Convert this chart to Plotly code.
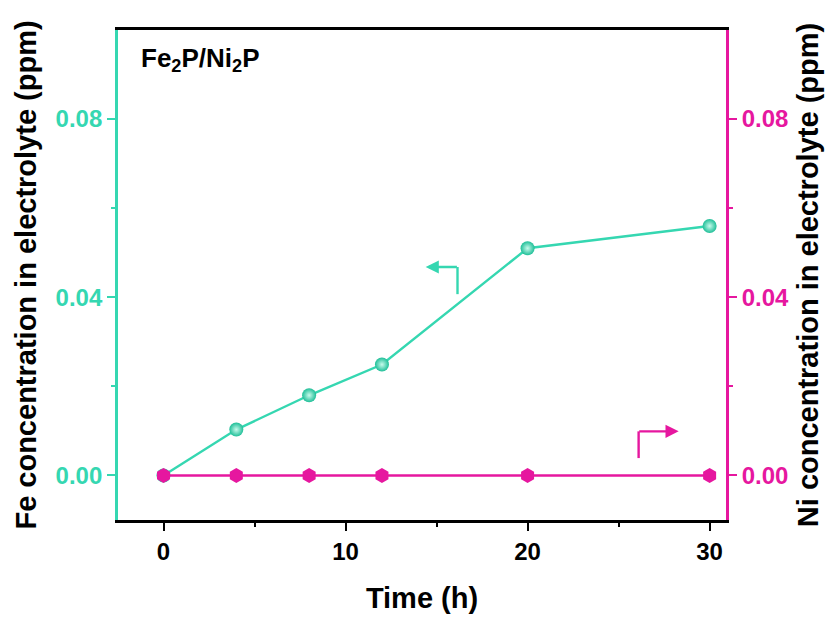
import plotly.graph_objects as go

time_h = [0, 4, 8, 12, 20, 30]
fe_ppm = [0.0, 0.0103, 0.018, 0.0249, 0.051, 0.056]
ni_ppm = [0.0, 0.0, 0.0, 0.0, 0.0, 0.0]
x_ticks = [0, 10, 20, 30]
y_ticks = [0.0, 0.04, 0.08]
y_tick_labels = ["0.00", "0.04", "0.08"]

TEAL = "#35d7b1"
MAG = "#e6179f"
FONT = "Liberation Sans, Arial, sans-serif"

fig = go.Figure()
fig.add_trace(go.Scatter(
    x=time_h, y=fe_ppm, mode="lines+markers", name="Fe",
    line=dict(color=TEAL, width=2.4),
    marker=dict(symbol="circle", size=14, color="#1fbf98",
                gradient=dict(type="radial", color="#c8fbec"),
                line=dict(width=0)),
    yaxis="y", cliponaxis=False))
fig.add_trace(go.Scatter(
    x=time_h, y=ni_ppm, mode="lines+markers", name="Ni",
    line=dict(color=MAG, width=2.4),
    marker=dict(symbol="hexagon", size=15, color=MAG, line=dict(width=0)),
    yaxis="y2", cliponaxis=False))

fig.update_layout(
    width=828, height=609,
    margin=dict(l=110, r=110, t=22, b=97, autoexpand=False),
    paper_bgcolor="white", plot_bgcolor="white",
    showlegend=False,
    font=dict(family=FONT),
    xaxis=dict(
        range=[-2.5, 30.9], tickvals=x_ticks, ticktext=[f"<b>{t}</b>" for t in x_ticks],
        showline=True, linecolor="black", linewidth=2.8, mirror=True,
        ticks="outside", ticklen=8, tickwidth=2.2, tickcolor="black",
        minor=dict(tickvals=[5, 15, 25], ticks="outside", ticklen=4, tickwidth=2.2, tickcolor="black"),
        showgrid=False, zeroline=False, automargin=False,
        tickfont=dict(family=FONT, size=24, color="black"),
        title=dict(text="<b>Time (h)</b>", font=dict(family=FONT, size=29, color="black"), standoff=24),
    ),
    yaxis=dict(
        range=[-0.01, 0.1], tickvals=y_ticks, ticktext=[f"<b>{t}</b>" for t in y_tick_labels],
        showline=True, linecolor=TEAL, linewidth=2.8,
        ticks="outside", ticklen=8, tickwidth=2.2, tickcolor=TEAL,
        minor=dict(tickvals=[0.02, 0.06], ticks="outside", ticklen=4, tickwidth=2.2, tickcolor=TEAL),
        showgrid=False, zeroline=False, automargin=False,
        tickfont=dict(family=FONT, size=24, color=TEAL),
        title=dict(text="<b>Fe concentration in electrolyte (ppm)</b>",
                   font=dict(family=FONT, size=29, color="black"), standoff=11),
    ),
    yaxis2=dict(
        range=[-0.01, 0.1], tickvals=y_ticks, ticktext=[f"<b>{t}</b>" for t in y_tick_labels],
        overlaying="y", side="right",
        showline=True, linecolor=MAG, linewidth=2.8,
        ticks="outside", ticklen=8, tickwidth=2.2, tickcolor=MAG,
        minor=dict(tickvals=[0.02, 0.06], ticks="outside", ticklen=4, tickwidth=2.2, tickcolor=MAG),
        showgrid=False, zeroline=False, automargin=False,
        tickfont=dict(family=FONT, size=24, color=MAG),
        title=dict(text="<b>Ni concentration in electrolyte (ppm)</b>",
                   font=dict(family=FONT, size=29, color="black"), standoff=10),
    ),
)

# Sample label
fig.add_annotation(x=0.035, y=0.978, xref="paper", yref="paper", xanchor="left", yanchor="top",
                   text="<b>Fe<sub>2</sub>P/Ni<sub>2</sub>P</b>", showarrow=False,
                   font=dict(family=FONT, size=26, color="black"))

# Axis-pointing arrows
fig.add_shape(type="line", x0=16.15, x1=16.15, y0=0.0407, y1=0.0468, xref="x", yref="y",
              line=dict(color=TEAL, width=2.4))
fig.add_annotation(x=14.4, y=0.0468, ax=16.2, ay=0.0468, xref="x", yref="y", axref="x", ayref="y",
                   text="", showarrow=True, arrowhead=2, arrowsize=1.1, arrowwidth=2.4, arrowcolor=TEAL)
fig.add_shape(type="line", x0=26.1, x1=26.1, y0=0.0039, y1=0.0099, xref="x", yref="y",
              line=dict(color=MAG, width=2.4))
fig.add_annotation(x=28.3, y=0.0099, ax=26.05, ay=0.0099, xref="x", yref="y", axref="x", ayref="y",
                   text="", showarrow=True, arrowhead=2, arrowsize=1.1, arrowwidth=2.4, arrowcolor=MAG)

fig.write_html("out.html")
